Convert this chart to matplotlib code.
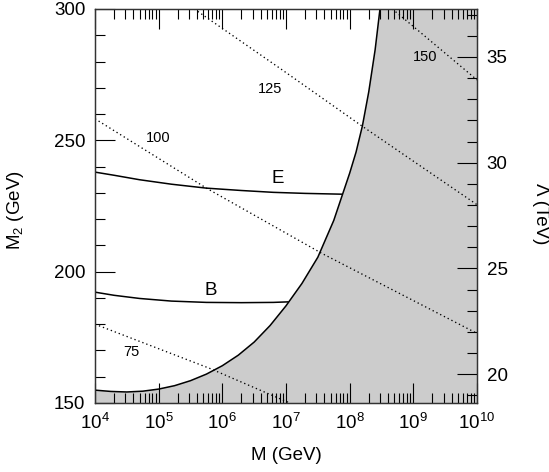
import numpy as np
import matplotlib
matplotlib.use("Agg")
import matplotlib.pyplot as plt
from matplotlib.ticker import LogLocator, NullFormatter, MultipleLocator, FixedLocator

plt.rcParams['font.family'] = ['Liberation Sans', 'DejaVu Sans']
plt.rcParams['mathtext.fontset'] = 'custom'
plt.rcParams['mathtext.rm'] = 'Liberation Sans'
plt.rcParams['mathtext.it'] = 'Liberation Sans:italic'
plt.rcParams['mathtext.default'] = 'regular'

# Messenger scale log10(M/GeV) and wino mass M2 (GeV)
boundary_logM = [4.0, 4.25, 4.5, 4.75, 5.0, 5.25, 5.5, 5.75, 6.0, 6.25, 6.5, 6.75,
                 7.0, 7.25, 7.5, 7.75, 8.0, 8.1, 8.2, 8.3, 8.4, 8.476]
boundary_M2 = [154.9, 154.4, 154.2, 154.5, 155.3, 156.6, 158.5, 161.0, 164.2, 168.2,
               173.2, 179.5, 187.0, 195.5, 205.5, 219.5, 237.5, 245.5, 255.5, 268.5,
               284.5, 300.0]

curve_E_logM = [4.0, 4.3, 4.7, 5.2, 5.75, 6.3, 6.8, 7.3, 7.875]
curve_E_M2 = [237.9, 236.7, 235.0, 233.3, 231.8, 230.9, 230.2, 229.8, 229.5]

curve_B_logM = [4.0, 4.3, 4.7, 5.2, 5.75, 6.3, 6.8, 7.03]
curve_B_M2 = [192.2, 191.0, 189.8, 188.8, 188.3, 188.2, 188.3, 188.5]

# Dotted contours: label -> (log10 M, M2)
contour_values = ["75", "100", "125", "150"]
contour_logM = [[4.0, 5.8, 7.06],
                [4.0, 5.75, 7.56, 10.0],
                [5.56, 6.906, 8.19, 10.0],
                [8.67, 8.973, 10.0]]
contour_M2 = [[180.0, 163.2, 150.0],
              [258.2, 231.8, 207.0, 176.5],
              [300.0, 277.4, 255.5, 225.5],
              [300.0, 293.9, 273.0]]
contour_label_logM = [4.575, 4.994, 6.75, 9.18]
contour_label_M2 = [169.3, 250.8, 269.5, 281.8]

curve_names = ["E", "B"]
curve_label_logM = [6.863, 5.817]
curve_label_M2 = [235.6, 192.8]

# Conversion between M2 (GeV) and Lambda (TeV)
m2_per_lambda = 8.05
lambda_major = [20, 25, 30, 35]

xmin, xmax = 1e4, 1e10
ymin, ymax = 150, 300

fig = plt.figure(figsize=(5.49, 4.72), dpi=100)
ax = fig.add_axes([95 / 549, 1 - 403 / 472, (477 - 95) / 549, (403 - 9) / 472])

bx = 10 ** np.array(boundary_logM)
by = np.array(boundary_M2)

# Excluded region: below / right of the boundary
poly_x = np.concatenate([bx, [xmax, xmax, xmin]])
poly_y = np.concatenate([by, [ymax, ymin, ymin]])
ax.fill(poly_x, poly_y, color='#cccccc', lw=0, zorder=0)
ax.plot(bx, by, color='black', lw=1.1, zorder=3, solid_joinstyle='round')

ax.plot(10 ** np.array(curve_E_logM), curve_E_M2, color='black', lw=1.1, zorder=3)
ax.plot(10 ** np.array(curve_B_logM), curve_B_M2, color='black', lw=1.1, zorder=3)

for lx, ly in zip(contour_logM, contour_M2):
    ax.plot(10 ** np.array(lx), ly, color='black', lw=0.95,
            linestyle=(0, (1, 2.2)), zorder=2)

for name, lx, ly in zip(contour_values, contour_label_logM, contour_label_M2):
    ax.text(10 ** lx, ly, name, fontsize=10.5, ha='center', va='center', zorder=4)

for name, lx, ly in zip(curve_names, curve_label_logM, curve_label_M2):
    ax.text(10 ** lx, ly, name, fontsize=13.5, ha='center', va='center', zorder=4)

ax.set_xscale('log')
ax.set_xlim(xmin, xmax)
ax.set_ylim(ymin, ymax)
ax.xaxis.set_major_locator(LogLocator(base=10, numticks=20))
ax.xaxis.set_minor_locator(LogLocator(base=10, subs=np.arange(2, 10), numticks=20))
ax.xaxis.set_minor_formatter(NullFormatter())
ax.yaxis.set_major_locator(MultipleLocator(50))
ax.yaxis.set_minor_locator(MultipleLocator(10))

ax.tick_params(axis='both', which='both', direction='in', width=0.8,
               labelsize=13.5, pad=7)
ax.tick_params(axis='both', which='major', length=14.4)
ax.tick_params(axis='both', which='minor', length=7.2)
ax.tick_params(axis='x', which='both', top=True, bottom=True)
ax.tick_params(axis='y', which='both', left=True, right=False)

ax.set_xlabel('M (GeV)', fontsize=13.5, labelpad=10)
ax.set_ylabel('M$_2$ (GeV)', fontsize=13.5)
ax.yaxis.label.set_va('center')
ax.yaxis.set_label_coords((16 - 95) / 382, 0.49)

ax2 = ax.twinx()
ax2.set_ylim(ymin / m2_per_lambda, ymax / m2_per_lambda)
ax2.yaxis.set_major_locator(FixedLocator(lambda_major))
ax2.yaxis.set_minor_locator(MultipleLocator(1))
ax2.tick_params(axis='y', which='both', direction='in', width=0.8,
                labelsize=13.5, pad=7)
ax2.tick_params(axis='y', which='major', length=14.4)
ax2.tick_params(axis='y', which='minor', length=7.2)
ax2.set_ylabel('Λ (TeV)', fontsize=13.5, rotation=-90)
ax2.yaxis.label.set_va('center')
ax2.yaxis.set_label_coords((541 - 95) / 382, 0.48)

for a in (ax, ax2):
    for s in a.spines.values():
        s.set_linewidth(0.9)
        s.set_color('#333333')

fig.savefig('out.png', dpi=100)
